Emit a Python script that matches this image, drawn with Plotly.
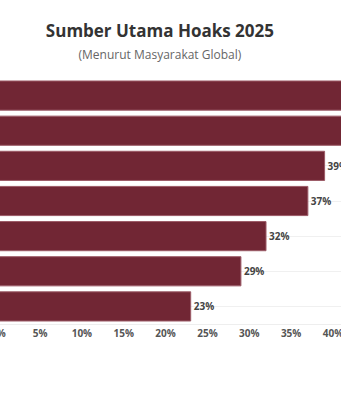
import plotly.graph_objects as go

categories = ["Influencer/tokoh online", "Politisi nasional", "Pemerintah asing",
              "Aktivis", "Jurnalis", "Perusahaan besar", "Orang biasa"]
values = [47, 47, 39, 37, 32, 29, 23]
value_labels = [f"{v}%" for v in values]
x_ticks = [0, 5, 10, 15, 20, 25, 30, 35, 40]
x_tick_labels = [f"{t}%" for t in x_ticks]
x_range = [0.215, 40.96]

tick_font = dict(family="Open Sans", size=10, color="#555555", weight="bold")

fig = go.Figure(go.Bar(
    x=values, y=categories, orientation="h",
    marker=dict(color="#712634", line=dict(color="#9c5a66", width=1)),
    text=value_labels, textposition="outside", cliponaxis=False,
    textfont=dict(family="Open Sans", size=10, color="#444444", weight="bold"),
))

# first tick label (0%) sits just left of the visible range; draw it from the axis scale
zero_frac = (x_ticks[0] - x_range[0]) / (x_range[1] - x_range[0])
fig.add_annotation(
    text=x_tick_labels[0], xref="paper", yref="paper",
    x=zero_frac, y=0, xanchor="center", yanchor="middle", yshift=-9,
    showarrow=False, font=tick_font,
)

fig.update_layout(
    width=341, height=400,
    margin=dict(l=0, r=0, t=78, b=76),
    paper_bgcolor="#ffffff", plot_bgcolor="#ffffff",
    bargap=0.17,
    showlegend=False,
    title=dict(
        text="<b>Sumber Utama Hoaks 2025</b><br><span style='font-size:12px;color:#666666'>(Menurut Masyarakat Global)</span>",
        x=0.469, xanchor="center", y=0.9075, yanchor="top",
        font=dict(family="Open Sans", size=17, color="#333333"),
    ),
    xaxis=dict(
        range=x_range, tickvals=x_ticks, ticktext=x_tick_labels,
        showgrid=False, zeroline=False, showline=True, linecolor="#eeeeee",
        tickfont=tick_font,
        ticklabeloverflow="allow",
        automargin=False, fixedrange=True,
    ),
    yaxis=dict(
        autorange="reversed", showticklabels=False, showgrid=True,
        gridcolor="#f0f0f0", zeroline=False, automargin=False,
    ),
)

fig.write_html("out.html")
